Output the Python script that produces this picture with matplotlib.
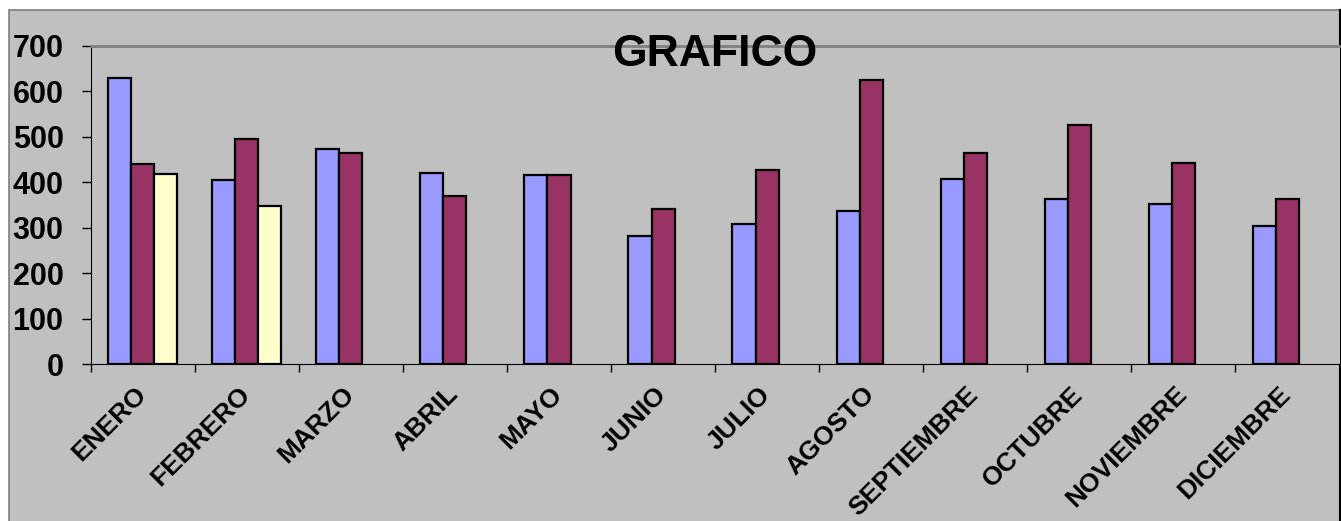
import matplotlib
matplotlib.use("Agg")
import matplotlib.pyplot as plt
import matplotlib.patches as mpatches
import matplotlib.lines as mlines
import matplotlib.transforms as mtransforms
import numpy as np

plt.rcParams['font.family'] = ['Liberation Sans', 'DejaVu Sans']
plt.rcParams['font.weight'] = 'bold'

# Data
months = ['ENERO', 'FEBRERO', 'MARZO', 'ABRIL', 'MAYO', 'JUNIO', 'JULIO',
          'AGOSTO', 'SEPTIEMBRE', 'OCTUBRE', 'NOVIEMBRE', 'DICIEMBRE']
serie1 = [628, 404, 472, 420, 416, 282, 307, 336, 406, 362, 352, 303]
serie2 = [440, 495, 463, 369, 415, 340, 427, 624, 465, 526, 441, 363]
serie3 = [418, 348, np.nan, np.nan, np.nan, np.nan, np.nan, np.nan,
          np.nan, np.nan, np.nan, np.nan]
y_ticks = [0, 100, 200, 300, 400, 500, 600, 700]

W, H = 1341, 521
fig = plt.figure(figsize=(W / 100, H / 100), dpi=100, facecolor='white')

#Chart area background
chart_bg = mpatches.Rectangle((9 / W, -0.05), (1339.5 - 9) / W, 1.05 - 10 / H,
                              transform=fig.transFigure, facecolor='#C0C0C0',
                              edgecolor='#7F7F7F', linewidth=1.2, zorder=-5)
fig.patches.append(chart_bg)
fig.lines.append(mlines.Line2D([1339.5 / W, 1339.5 / W], [0, 1 - 10 / H],
                               transform=fig.transFigure, color='black',
                               linewidth=1.5, zorder=-4))

#Plot area
ax = fig.add_axes([90.7 / W, (H - 364) / H, (1339.5 - 90.7) / W, (364 - 45.7) / H])
ax.set_zorder(2)
ax.set_facecolor('#C0C0C0')

x = np.arange(len(months))
w = 1 / 4.5
edge = dict(edgecolor='black', linewidth=1.6)
ax.bar(x - w, serie1, w, color='#9999FF', **edge)
ax.bar(x, serie2, w, color='#993366', **edge)
ax.bar(x + w, serie3, w, color='#FFFFCC', **edge)

ax.set_xlim(-0.5, len(months) - 0.5)
ax.set_ylim(0, 700)

#Axis ticks
ax.set_yticks(y_ticks)
ax.tick_params(axis='y', direction='out', length=6.5, width=1, pad=13, labelsize=22)
ax.set_xticks(np.arange(-0.5, len(months), 1))
ax.set_xticklabels([])
ax.tick_params(axis='x', which='major', direction='out', length=6, width=1)
ax.set_xticks(x, minor=True)
ax.set_xticklabels(months, minor=True, rotation=45, ha='right',
                   rotation_mode='anchor', fontsize=19)
ax.tick_params(axis='x', which='minor', length=0, pad=13)
shift = mtransforms.ScaledTranslation(-9 / 100, 0, fig.dpi_scale_trans)
for lbl in ax.get_xticklabels(minor=True):
    lbl.set_fontweight('bold')
    lbl.set_transform(lbl.get_transform() + shift)
for lbl in ax.get_yticklabels():
    lbl.set_fontweight('bold')

ax.spines['left'].set_color('black')
ax.spines['bottom'].set_color('black')
ax.spines['top'].set_color('#808080')
ax.spines['top'].set_linewidth(2)
ax.spines['right'].set_visible(False)

fig.text(714.6 / W, 1 - 65.7 / H, 'GRAFICO', ha='center', va='baseline',
         fontsize=32, fontweight='bold', zorder=5)

fig.savefig('out.png', dpi=100, facecolor='white')
